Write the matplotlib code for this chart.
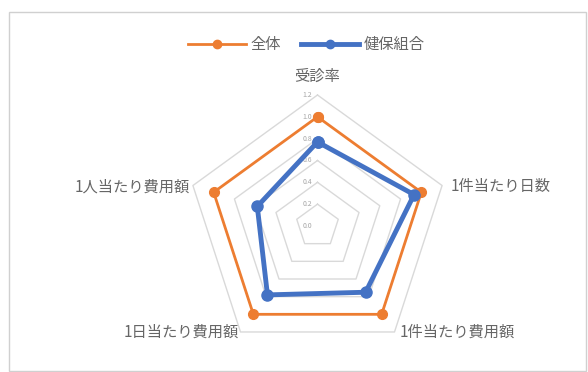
import numpy as np
import matplotlib
matplotlib.use("Agg")
import matplotlib.pyplot as plt
from matplotlib.lines import Line2D
from matplotlib.patches import Rectangle

plt.rcParams['font.family'] = ['Noto Sans CJK JP', 'DejaVu Sans']

categories = ["受診率", "1件当たり日数", "1件当たり費用額", "1日当たり費用額", "1人当たり費用額"]
series_names = ["全体", "健保組合"]
zentai = [1.0, 1.0, 1.0, 1.0, 1.0]
kenpo = [0.77, 0.93, 0.75, 0.78, 0.58]
r_ticks = [0.0, 0.2, 0.4, 0.6, 0.8, 1.0, 1.2]
r_tick_labels = ["0.0", "0.2", "0.4", "0.6", "0.8", "1.0", "1.2"]

ORANGE = "#ED7D31"
BLUE = "#4472C4"
GRID = "#D9D9D9"
TXT = "#666666"

W, H = 588, 372
fig = plt.figure(figsize=(W / 100, H / 100), dpi=100)

# chart border
fig.patches.append(Rectangle((9 / W, 0.003), (586 - 9) / W, (H - 12) / H - 0.003,
                             transform=fig.transFigure, fill=False,
                             edgecolor="#D0D0D0", linewidth=1.0))

cx, cy, R = 317.5, 226, 131
ax = fig.add_axes([(cx - R) / W, (H - cy - R) / H, 2 * R / W, 2 * R / H], projection='polar')
ax.set_theta_offset(np.pi / 2)
ax.set_theta_direction(-1)
ax.set_ylim(0, 1.2)
ax.grid(False)
ax.spines['polar'].set_visible(False)
ax.set_xticks([])
ax.set_yticks([])
ax.patch.set_alpha(0)

n = len(categories)
theta = np.linspace(0, 2 * np.pi, n, endpoint=False)
theta_c = np.append(theta, theta[0])

# polygonal gridlines
for rv in r_ticks[1:]:
    ax.plot(theta_c, [rv] * (n + 1), color=GRID, lw=1.0, zorder=1, clip_on=False)

# radial tick labels
for rv, lab in zip(r_ticks, r_tick_labels):
    ax.annotate(lab, xy=(0, rv), xytext=(-4, 0), textcoords="offset points",
                ha="right", va="center", fontsize=5, color="#A6A6A6", zorder=2)

z = np.append(zentai, zentai[0])
k = np.append(kenpo, kenpo[0])
ax.plot(theta_c, z, color=ORANGE, lw=2.0, marker="o", ms=7, zorder=3, clip_on=False)
ax.plot(theta_c, k, color=BLUE, lw=3.5, marker="o", ms=8, zorder=4, clip_on=False)

# category labels, placed just outside the outer ring vertices (offsets in points)
label_off = [((0, 7), "center", "bottom"),
             ((6, -1), "left", "center"),
             ((4, 0), "left", "center"),
             ((-1, 0), "right", "center"),
             ((-2, -1), "right", "center")]
for t, ((dx, dy), ha, va), lab in zip(theta, label_off, categories):
    ax.annotate(lab, xy=(t, 1.2), xytext=(dx, dy), textcoords="offset points",
                ha=ha, va=va, fontsize=11, color=TXT, annotation_clip=False)

handles = [Line2D([0], [0], color=ORANGE, lw=2.0, marker="o", ms=6),
           Line2D([0], [0], color=BLUE, lw=3.5, marker="o", ms=6)]
fig.legend(handles, series_names, loc="center", bbox_to_anchor=(306 / W, 1 - 45 / H),
           ncol=2, frameon=False, fontsize=11, handlelength=3.8, columnspacing=1.3,
           handletextpad=0.3, labelcolor=TXT)

fig.savefig("out.png", dpi=100)
